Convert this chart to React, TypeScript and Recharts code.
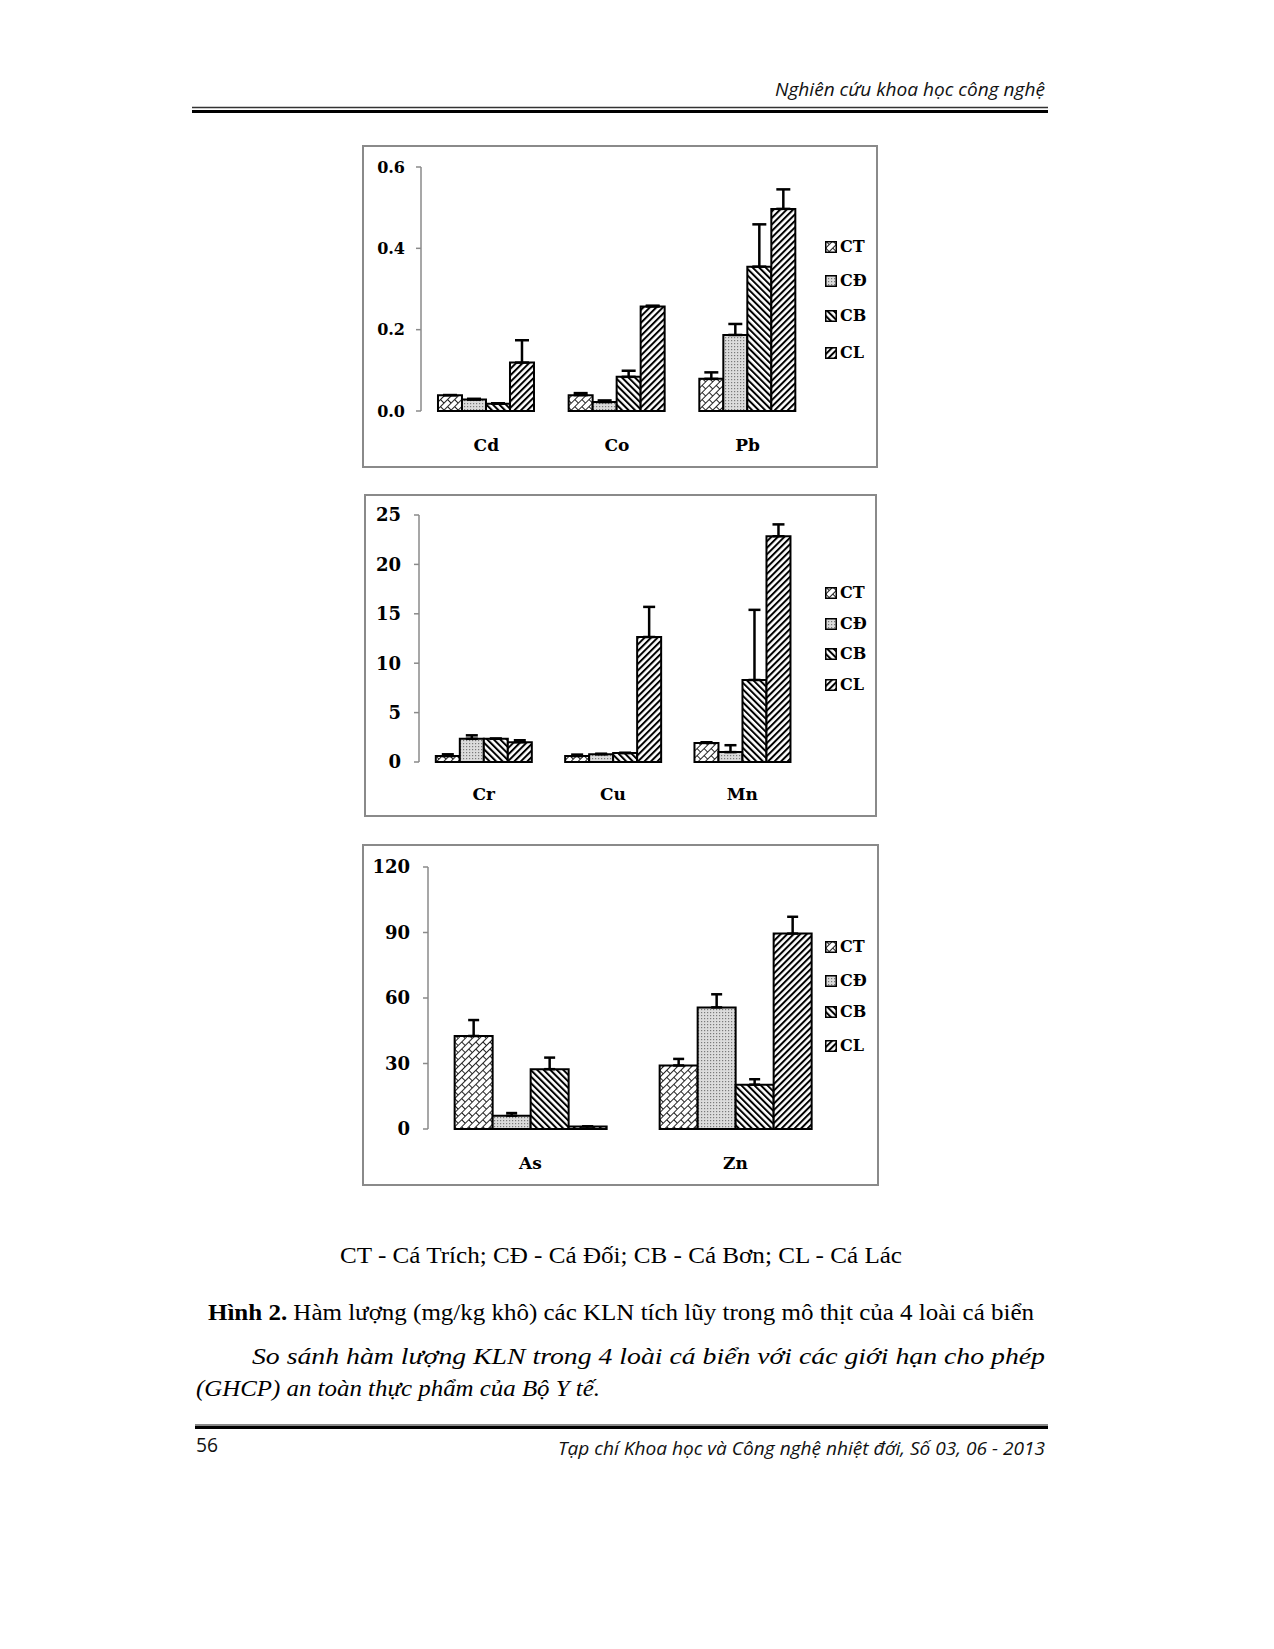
import React from 'react';
import { BarChart, Bar, XAxis, YAxis, ErrorBar, Legend } from 'recharts';

// ---------- series ----------
const seriesKeys = ['CT', 'CD', 'CB', 'CL'];
const seriesNames = ['CT', 'CĐ', 'CB', 'CL'];
const seriesPatterns = ['patCT', 'patCD', 'patCB', 'patCL'];

// ---------- chart 1 ----------
const metals1 = ['Cd', 'Co', 'Pb'];
const ct1 = [0.039, 0.039, 0.079];
const cd1 = [0.028, 0.022, 0.187];
const cb1 = [0.018, 0.084, 0.355];
const cl1 = [0.119, 0.257, 0.497];
const ct1Err = [0, 0.005, 0.016];
const cd1Err = [0.002, 0.004, 0.027];
const cb1Err = [0.001, 0.015, 0.104];
const cl1Err = [0.055, 0.002, 0.048];
const yTicks1 = [0, 0.2, 0.4, 0.6];

// ---------- chart 2 ----------
const metals2 = ['Cr', 'Cu', 'Mn'];
const ct2 = [0.6, 0.6, 1.93];
const cd2 = [2.35, 0.78, 1.0];
const cb2 = [2.35, 0.9, 8.3];
const cl2 = [2.0, 12.65, 22.85];
const ct2Err = [0.18, 0.15, 0.07];
const cd2Err = [0.35, 0.06, 0.7];
const cb2Err = [0.02, 0.03, 7.1];
const cl2Err = [0.2, 3.05, 1.2];
const yTicks2 = [0, 5, 10, 15, 20, 25];

// ---------- chart 3 ----------
const metals3 = ['As', 'Zn'];
const ct3 = [42.6, 29.1];
const cd3 = [6.1, 55.7];
const cb3 = [27.4, 20.3];
const cl3 = [1.2, 89.5];
const ct3Err = [7.3, 3.0];
const cd3Err = [1.2, 6.0];
const cb3Err = [5.3, 2.5];
const cl3Err = [0, 7.7];
const yTicks3 = [0, 30, 60, 90, 120];

// ---------- page text ----------
const headerText = 'Nghiên cứu khoa học công nghệ';
const legendNote = 'CT - Cá Trích; CĐ - Cá Đối; CB - Cá Bơn; CL - Cá Lác';
const figLabel = 'Hình 2.';
const figCaption = ' Hàm lượng (mg/kg khô) các KLN tích lũy trong mô thịt của 4 loài cá biển';
const paraLine1 = 'So sánh hàm lượng KLN trong 4 loài cá biển với các giới hạn cho phép';
const paraLine2 = '(GHCP) an toàn thực phẩm của Bộ Y tế.';
const pageNumber = '56';
const footerText = 'Tạp chí Khoa học và Công nghệ nhiệt đới, Số 03, 06 - 2013';

function buildRows(metals: string[], vals: number[][], errs: number[][]) {
  return metals.map((m, i) => {
    const row: any = { metal: m };
    seriesKeys.forEach((k, s) => {
      row[k] = vals[s][i];
      row[k + 'Err'] = [0, errs[s][i]];
    });
    return row;
  });
}

const SERIF = '"DejaVu Serif", serif';
const AXIS_GREY = '#8a8a8a';

const charts = [
  {
    rows: buildRows(metals1, [ct1, cd1, cb1, cl1], [ct1Err, cd1Err, cb1Err, cl1Err]),
    n: metals1.length,
    yTicks: yTicks1,
    fmt: (v: number) => v.toFixed(1),
    box: { x: 362, y: 145, w: 516, h: 323 },
    plot: { left: 59, top: 22, w: 392, h: 244 },
    yFont: 16,
    yGap: 11,
    catDy: 40,
    errW: 7,
    legendX: 463,
    legendYs: [101.5, 136, 171, 208],
  },
  {
    rows: buildRows(metals2, [ct2, cd2, cb2, cl2], [ct2Err, cd2Err, cb2Err, cl2Err]),
    n: metals2.length,
    yTicks: yTicks2,
    fmt: (v: number) => String(v),
    box: { x: 364, y: 494, w: 513, h: 323 },
    plot: { left: 55, top: 21, w: 388, h: 247 },
    yFont: 18,
    yGap: 13,
    catDy: 38,
    errW: 6,
    legendX: 461,
    legendYs: [99, 130, 159.5, 191],
  },
  {
    rows: buildRows(metals3, [ct3, cd3, cb3, cl3], [ct3Err, cd3Err, cb3Err, cl3Err]),
    n: metals3.length,
    yTicks: yTicks3,
    fmt: (v: number) => String(v),
    box: { x: 362, y: 844, w: 517, h: 342 },
    plot: { left: 66, top: 23, w: 410, h: 262 },
    yFont: 18,
    yGap: 13,
    catDy: 40,
    errW: 5.5,
    legendX: 463,
    legendYs: [103, 136.5, 168, 201.5],
  },
];

function PatternDefs() {
  return (
    <svg width={0} height={0} style={{ position: 'absolute', left: 0, top: 0 }}>
      <defs>
        <pattern id="patCT" width={10} height={10} patternUnits="userSpaceOnUse" patternTransform="rotate(-45)">
          <rect width={10} height={10} fill="#fff" />
          <line x1={0} y1={0.5} x2={10} y2={0.5} stroke="#222" strokeWidth={1} />
          <line x1={0} y1={5.5} x2={10} y2={5.5} stroke="#222" strokeWidth={1} />
          <line x1={0.5} y1={0} x2={0.5} y2={5.5} stroke="#222" strokeWidth={1} />
          <line x1={5.5} y1={5.5} x2={5.5} y2={10} stroke="#222" strokeWidth={1} />
        </pattern>
        <pattern id="patCD" width={3} height={3} patternUnits="userSpaceOnUse">
          <rect width={3} height={3} fill="#dcdcdc" />
          <rect x={0} y={0} width={1.2} height={1.2} fill="#7a7a7a" />
        </pattern>
        <pattern id="patCB" width={4.6} height={4.6} patternUnits="userSpaceOnUse" patternTransform="rotate(-45)">
          <rect width={4.6} height={4.6} fill="#fff" />
          <line x1={1} y1={0} x2={1} y2={4.6} stroke="#000" strokeWidth={2} />
        </pattern>
        <pattern id="patCL" width={4.6} height={4.6} patternUnits="userSpaceOnUse" patternTransform="rotate(45)">
          <rect width={4.6} height={4.6} fill="#fff" />
          <line x1={1} y1={0} x2={1} y2={4.6} stroke="#000" strokeWidth={2} />
        </pattern>
      </defs>
    </svg>
  );
}

function MetalChart({ cfg }: { cfg: any }) {
  const { box, plot } = cfg;
  const catH = 40;
  const margin = {
    top: plot.top,
    left: 0,
    right: box.w - plot.left - plot.w,
    bottom: box.h - plot.top - plot.h - catH,
  };
  const gridTicks = Array.from({ length: cfg.n + 1 }, (_, i) => i);
  const CatTick = (props: any) => {
    const { x, y, payload } = props;
    return (
      <text x={x} y={y} dy={cfg.catDy} textAnchor="middle" fontFamily={SERIF} fontWeight="bold" fontSize={17} fill="#000">
        {payload.value}
      </text>
    );
  };
  const renderLegend = () => (
    <div style={{ position: 'relative', width: box.w, height: box.h }}>
      {seriesNames.map((name, i) => (
        <div
          key={name}
          style={{
            position: 'absolute',
            left: cfg.legendX,
            top: cfg.legendYs[i] - 10,
            height: 20,
            display: 'flex',
            alignItems: 'center',
          }}
        >
          <svg width={12} height={12} style={{ display: 'block' }}>
            <rect x={0.75} y={0.75} width={10.5} height={10.5} fill={`url(#${seriesPatterns[i]})`} stroke="#000" strokeWidth={1.5} />
          </svg>
          <span style={{ fontFamily: SERIF, fontWeight: 'bold', fontSize: 16, color: '#000', marginLeft: 3, lineHeight: '20px' }}>
            {name}
          </span>
        </div>
      ))}
    </div>
  );
  return (
    <div style={{ position: 'absolute', left: box.x, top: box.y, width: box.w, height: box.h }}>
      <div style={{ position: 'absolute', left: 0, top: 0, width: box.w, height: box.h, border: `2px solid ${AXIS_GREY}`, boxSizing: 'border-box' }} />
      <BarChart width={box.w} height={box.h} data={cfg.rows} margin={margin} barCategoryGap="13%" barGap={0}>
        <XAxis
          xAxisId="grid"
          type="number"
          domain={[0, cfg.n]}
          ticks={gridTicks}
          tick={false}
          tickSize={6}
          height={0}
          allowDataOverflow
          axisLine={{ stroke: AXIS_GREY, strokeWidth: 1.5 }}
          tickLine={{ stroke: AXIS_GREY, strokeWidth: 1.5 }}
        />
        <XAxis
          xAxisId="cat"
          dataKey="metal"
          height={catH}
          axisLine={false}
          tickLine={false}
          tickSize={0}
          tickMargin={0}
          interval={0}
          tick={<CatTick />}
        />
        <YAxis
          width={plot.left}
          domain={[cfg.yTicks[0], cfg.yTicks[cfg.yTicks.length - 1]]}
          ticks={cfg.yTicks}
          interval={0}
          tickFormatter={cfg.fmt}
          tickSize={5}
          tickMargin={cfg.yGap}
          axisLine={{ stroke: AXIS_GREY, strokeWidth: 1.5 }}
          tickLine={{ stroke: AXIS_GREY, strokeWidth: 1.5 }}
          tick={{ fontFamily: SERIF, fontWeight: 'bold', fontSize: cfg.yFont, fill: '#000' }}
        />
        {seriesKeys.map((k, i) => (
          <Bar
            key={k}
            xAxisId="cat"
            dataKey={k}
            name={seriesNames[i]}
            fill={`url(#${seriesPatterns[i]})`}
            stroke="#000"
            strokeWidth={2}
            isAnimationActive={false}
          >
            <ErrorBar dataKey={k + 'Err'} direction="y" width={cfg.errW} stroke="#000" strokeWidth={2.5} />
          </Bar>
        ))}
        <Legend
          layout="vertical"
          align="center"
          verticalAlign="middle"
          wrapperStyle={{ left: 0, top: 0, width: box.w, height: box.h, pointerEvents: 'none' }}
          content={renderLegend}
        />
      </BarChart>
    </div>
  );
}

function PageText() {
  const sans = '"Open Sans", sans-serif';
  const times = '"Liberation Serif", serif';
  return (
    <svg width={1274} height={1649} style={{ position: 'absolute', left: 0, top: 0, pointerEvents: 'none' }}>
      <text x={1045} y={96} textAnchor="end" fontFamily={sans} fontStyle="italic" fontSize={19} fill="#111" textLength={270} lengthAdjust="spacingAndGlyphs">
        {headerText}
      </text>
      <line x1={192} y1={107.5} x2={1048} y2={107.5} stroke="#333" strokeWidth={1.5} />
      <line x1={192} y1={111.5} x2={1048} y2={111.5} stroke="#000" strokeWidth={3} />

      <text x={340} y={1263} fontFamily={times} fontSize={24} fill="#000" textLength={562} lengthAdjust="spacingAndGlyphs">
        {legendNote}
      </text>
      <text x={208} y={1320} fontFamily={times} fontSize={24} fill="#000" textLength={826} lengthAdjust="spacingAndGlyphs">
        <tspan fontWeight="bold">{figLabel}</tspan>
        {figCaption}
      </text>
      <text x={252} y={1364} fontFamily={times} fontStyle="italic" fontSize={24} fill="#000" textLength={793} lengthAdjust="spacingAndGlyphs">
        {paraLine1}
      </text>
      <text x={196} y={1396} fontFamily={times} fontStyle="italic" fontSize={24} fill="#000" textLength={404} lengthAdjust="spacingAndGlyphs">
        {paraLine2}
      </text>

      <line x1={195} y1={1425} x2={1048} y2={1425} stroke="#888" strokeWidth={2} />
      <line x1={195} y1={1427.5} x2={1048} y2={1427.5} stroke="#000" strokeWidth={3} />
      <text x={196} y={1452} fontFamily={sans} fontSize={20} fill="#111" textLength={22} lengthAdjust="spacingAndGlyphs">
        {pageNumber}
      </text>
      <text x={1045} y={1455} textAnchor="end" fontFamily={sans} fontStyle="italic" fontSize={19} fill="#111" textLength={487} lengthAdjust="spacingAndGlyphs">
        {footerText}
      </text>
    </svg>
  );
}

export default function App() {
  return (
    <div style={{ position: 'absolute', left: 0, top: 0, width: 1274, height: 1649, background: '#fff', overflow: 'hidden' }}>
      <PatternDefs />
      <PageText />
      {charts.map((c, i) => (
        <MetalChart key={i} cfg={c} />
      ))}
    </div>
  );
}
